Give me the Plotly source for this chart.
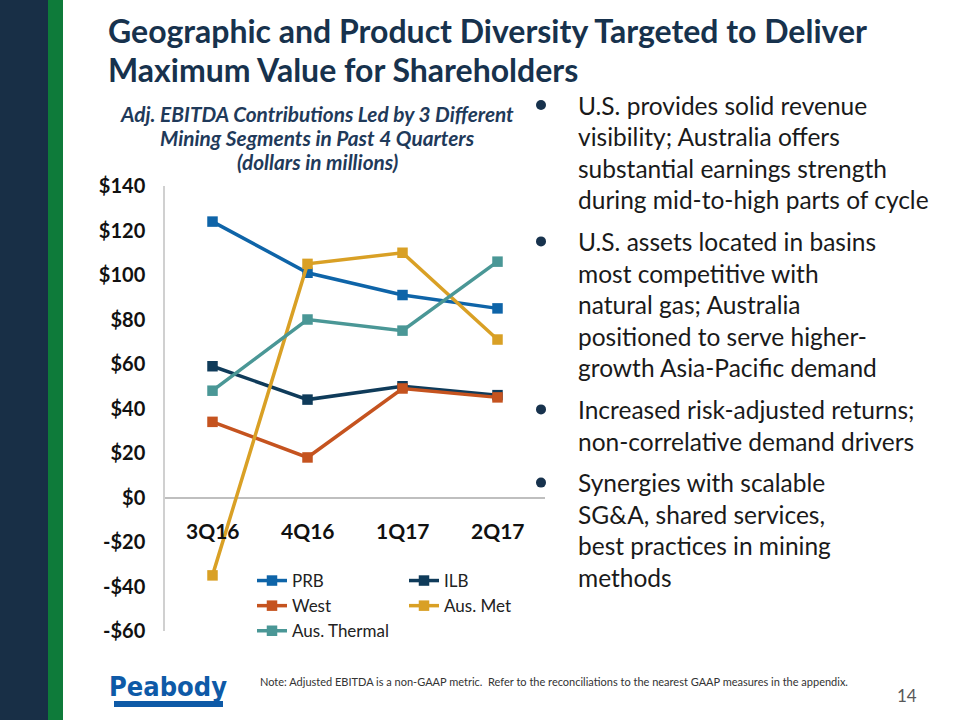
import plotly.graph_objects as go

W, H = 960, 720

quarters = ["3Q16", "4Q16", "1Q17", "2Q17"]
prb = [124, 101, 91, 85]
ilb = [59, 44, 50, 46]
west = [34, 18, 49, 45]
aus_met = [-35, 105, 110, 71]
aus_thermal = [48, 80, 75, 106]

series = [
    ("PRB", prb, "#0E64A8", "legend"),
    ("ILB", ilb, "#0F3B5A", "legend2"),
    ("West", west, "#C5531F", "legend"),
    ("Aus. Met", aus_met, "#D9A025", "legend2"),
    ("Aus. Thermal", aus_thermal, "#4A9796", "legend"),
]

y_ticks = [-60, -40, -20, 0, 20, 40, 60, 80, 100, 120, 140]
y_tick_text = ["-$60", "-$40", "-$20", "$0", "$20", "$40", "$60", "$80", "$100", "$120", "$140"]

title_lines = ["Geographic and Product Diversity Targeted to Deliver",
               "Maximum Value for Shareholders"]
subtitle_lines = ["Adj. EBITDA Contributions Led by 3 Different",
                  "Mining Segments in Past 4 Quarters",
                  "(dollars in millions)"]
bullets = [
    ["U.S. provides solid revenue", "visibility; Australia offers",
     "substantial earnings strength", "during mid-to-high parts of cycle"],
    ["U.S. assets located in basins", "most competitive with",
     "natural gas; Australia", "positioned to serve higher-",
     "growth Asia-Pacific demand"],
    ["Increased risk-adjusted returns;", "non-correlative demand drivers"],
    ["Synergies with scalable", "SG&A, shared services,",
     "best practices in mining", "methods"],
]
note = "Note: Adjusted EBITDA is a non-GAAP metric.  Refer to the reconciliations to the nearest GAAP measures in the appendix."

FONT = "Lato"
NAVY = "#17324D"


def px(x):
    return x / W


def py(y):
    return 1 - y / H


fig = go.Figure()
for name, vals, col, lg in series:
    fig.add_trace(go.Scatter(
        x=quarters, y=vals, name=name, mode="lines+markers", legend=lg,
        line=dict(color=col, width=3.5),
        marker=dict(symbol="square", size=10.5, color=col),
    ))

shapes = [
    dict(type="rect", xref="paper", yref="paper", x0=0, x1=px(48), y0=0, y1=1,
         fillcolor="#182F46", line_width=0, layer="below"),
    dict(type="rect", xref="paper", yref="paper", x0=px(48), x1=px(63), y0=0, y1=1,
         fillcolor="#0E7B3A", line_width=0, layer="below"),
    # logo underline bar
    dict(type="rect", xref="paper", yref="paper", x0=px(114), x1=px(223), y0=py(707), y1=py(701),
         fillcolor="#0E5AA7", line_width=0),
]

annotations = []
for i, t in enumerate(title_lines):
    annotations.append(dict(text=f"<b>{t}</b>", x=px(106), y=py(31 + 38.5 * i), xref="paper", yref="paper",
                            xanchor="left", yanchor="middle", showarrow=False,
                            font=dict(family=FONT, size=32, color=NAVY)))
for i, t in enumerate(subtitle_lines):
    annotations.append(dict(text=f"<b><i>{t}</i></b>", x=px(317), y=py(113 + 24.5 * i), xref="paper", yref="paper",
                            xanchor="center", yanchor="middle", showarrow=False,
                            font=dict(family=FONT, size=20.8, color="#1F3A5A")))

y = 105
for b in bullets:
    shapes.append(dict(type="circle", xref="paper", yref="paper",
                       x0=px(536), x1=px(546), y0=py(y + 5), y1=py(y - 5),
                       fillcolor="#17324D", line_width=0))
    for line in b:
        annotations.append(dict(text=line, x=px(576), y=py(y), xref="paper", yref="paper",
                                xanchor="left", yanchor="middle", showarrow=False,
                                font=dict(family=FONT, size=24.5, color="#1A1A1A")))
        y += 31.6
    y += 10

for q in quarters:
    annotations.append(dict(text=f"<b>{q}</b>", x=q, y=0, xref="x", yref="y",
                            xanchor="center", yanchor="middle", yshift=-33, showarrow=False,
                            font=dict(family=FONT, size=21, color="#111111")))

annotations.append(dict(text="<b>Peabody</b>", x=px(168), y=py(686), xref="paper", yref="paper",
                        xanchor="center", yanchor="middle", showarrow=False,
                        font=dict(family="DejaVu Sans Condensed, DejaVu Sans", size=27, color="#0E5AA7")))
annotations.append(dict(text=note, x=px(258), y=py(681), xref="paper", yref="paper",
                        xanchor="left", yanchor="middle", showarrow=False,
                        font=dict(family=FONT, size=11, color="#333333")))
annotations.append(dict(text="14", x=px(907), y=py(695), xref="paper", yref="paper",
                        xanchor="center", yanchor="middle", showarrow=False,
                        font=dict(family=FONT, size=17, color="#595959")))

legend_common = dict(orientation="v", xanchor="left", yanchor="top",
                     itemwidth=30, font=dict(family=FONT, size=17, color="#222222"),
                     bgcolor="rgba(0,0,0,0)", tracegroupgap=0, traceorder="normal")

fig.update_layout(
    width=W, height=H,
    margin=dict(l=0, r=0, t=0, b=0, pad=0, autoexpand=False),
    paper_bgcolor="white", plot_bgcolor="white",
    font=dict(family=FONT),
    showlegend=True,
    legend=dict(x=px(252), y=py(563), **legend_common),
    legend2=dict(x=px(404), y=py(563), **legend_common),
    xaxis=dict(domain=[px(165), px(545)], range=[-0.5, 3.5], showticklabels=False, showgrid=False,
               zeroline=False, showline=False, ticks="", automargin=False),
    yaxis=dict(domain=[py(631), py(186)], range=[-60, 140], tickvals=y_ticks, ticktext=y_tick_text,
               showgrid=False, zeroline=True, zerolinecolor="#BFBFBF", zerolinewidth=1.5,
               showline=True, linecolor="#D0D0D0", linewidth=1.5, ticks="",
               ticklabelstandoff=14, automargin=False,
               tickfont=dict(family=FONT, size=20, color="#111111", weight="bold")),
    shapes=shapes,
    annotations=annotations,
)

fig.write_html("out.html", config={"displayModeBar": False},
               post_script="document.body.style.margin='0';document.body.style.padding='0';")
